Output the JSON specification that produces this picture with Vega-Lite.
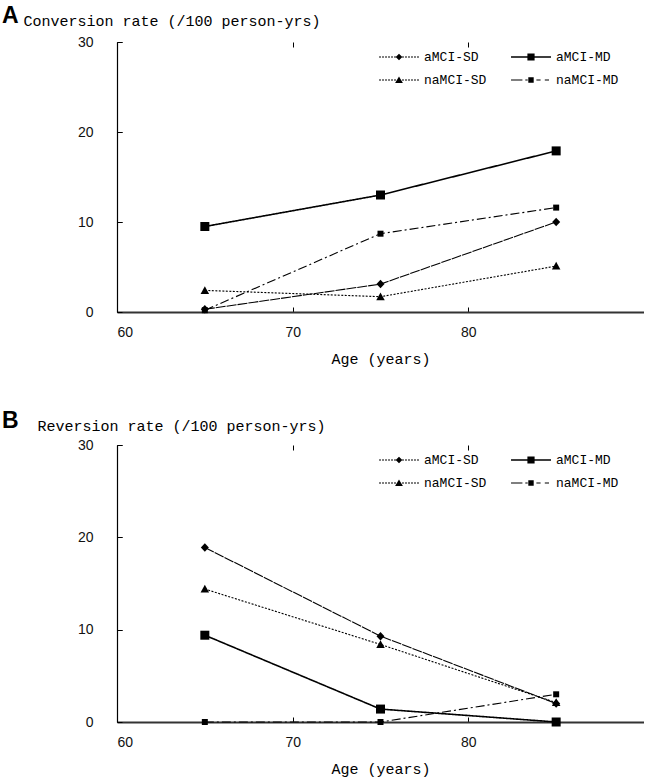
{
  "$schema": "https://vega.github.io/schema/vega-lite/v6.json",
  "padding": {"left": 2, "top": 5, "right": 0, "bottom": 12},
  "background": "white",
  "datasets": {
    "conversion": [
      {"series": "aMCI-SD", "age": 65, "rate": 0.3},
      {"series": "aMCI-SD", "age": 75, "rate": 3.1},
      {"series": "aMCI-SD", "age": 85, "rate": 10.0},
      {"series": "aMCI-MD", "age": 65, "rate": 9.5},
      {"series": "aMCI-MD", "age": 75, "rate": 13.0},
      {"series": "aMCI-MD", "age": 85, "rate": 17.9},
      {"series": "naMCI-SD", "age": 65, "rate": 2.4},
      {"series": "naMCI-SD", "age": 75, "rate": 1.7},
      {"series": "naMCI-SD", "age": 85, "rate": 5.1},
      {"series": "naMCI-MD", "age": 65, "rate": 0.2},
      {"series": "naMCI-MD", "age": 75, "rate": 8.7},
      {"series": "naMCI-MD", "age": 85, "rate": 11.6}
    ],
    "reversion": [
      {"series": "aMCI-SD", "age": 65, "rate": 18.9},
      {"series": "aMCI-SD", "age": 75, "rate": 9.3},
      {"series": "aMCI-SD", "age": 85, "rate": 2.0},
      {"series": "aMCI-MD", "age": 65, "rate": 9.4},
      {"series": "aMCI-MD", "age": 75, "rate": 1.4},
      {"series": "aMCI-MD", "age": 85, "rate": 0.0},
      {"series": "naMCI-SD", "age": 65, "rate": 14.4},
      {"series": "naMCI-SD", "age": 75, "rate": 8.4},
      {"series": "naMCI-SD", "age": 85, "rate": 2.1},
      {"series": "naMCI-MD", "age": 65, "rate": 0.0},
      {"series": "naMCI-MD", "age": 75, "rate": 0.0},
      {"series": "naMCI-MD", "age": 85, "rate": 3.0}
    ]
  },
  "vconcat": [
    {
      "width": 527,
      "height": 270,
      "data": {"name": "conversion"},
      "title": {"text": "A", "anchor": "start", "frame": "group", "font": "Liberation Sans", "fontSize": 23, "fontWeight": "bold", "color": "black", "dx": -115, "dy": 15, "offset": 0},
      "encoding": {
        "x": {"field": "age", "type": "quantitative", "scale": {"domain": [60, 90], "nice": false, "zero": false},
          "axis": {"title": "Age (years)", "values": [60, 70, 80], "labelFlush": true}},
        "y": {"field": "rate", "type": "quantitative", "scale": {"domain": [0, 30], "nice": false},
          "axis": {"title": "Conversion rate (/100 person-yrs)", "values": [0, 10, 20, 30], "titleX": -94, "titleY": -22}}
      },
      "layer": [
        {
          "mark": {"type": "line", "color": "black"},
          "encoding": {
            "strokeDash": {"field": "series", "type": "nominal", "legend": null,
              "scale": {"domain": ["aMCI-SD", "naMCI-SD", "aMCI-MD", "naMCI-MD"], "range": [[10, 1], [2, 1.5], [1, 0], [9, 3, 2, 3]]}},
            "strokeWidth": {"condition": {"test": "datum.series === 'aMCI-MD'", "value": 1.6}, "value": 1.1},
            "order": {"field": "age", "type": "quantitative"}
          }
        },
        {
          "mark": {"type": "point", "filled": true, "color": "black", "opacity": 1, "size": 100},
          "encoding": {
            "shape": {"field": "series", "type": "nominal", "legend": null,
              "scale": {"domain": ["aMCI-SD", "naMCI-SD", "aMCI-MD", "naMCI-MD"],
                "range": ["M0,-0.85L0.8,0L0,0.85L-0.8,0Z", "M0,-0.85L0.85,0.7L-0.85,0.7Z", "M-0.9,-0.9h1.8v1.8h-1.8Z", "M-0.6,-0.6h1.2v1.2h-1.2Z"]}}
          }
        },
        {
          "mark": {"type": "point", "filled": true, "color": "black", "opacity": 0, "size": 144},
          "encoding": {
            "shape": {"field": "series", "type": "nominal",
              "scale": {"domain": ["aMCI-SD", "naMCI-SD", "aMCI-MD", "naMCI-MD"],
                "range": [
                  "M-3.33,-0.08h0.33v0.16h-0.33ZM-2.83,-0.08h0.33v0.16h-0.33ZM-2.33,-0.08h0.33v0.16h-0.33ZM-1.83,-0.08h0.33v0.16h-0.33ZM-1.33,-0.08h0.33v0.16h-0.33ZM-0.83,-0.08h0.33v0.16h-0.33ZM0.5,-0.08h0.33v0.16h-0.33ZM1,-0.08h0.33v0.16h-0.33ZM1.5,-0.08h0.33v0.16h-0.33ZM2,-0.08h0.33v0.16h-0.33ZM2.5,-0.08h0.33v0.16h-0.33ZM3,-0.08h0.33v0.16h-0.33ZM0,-0.55L0.55,0L0,0.55L-0.55,0Z",
                  "M-3.33,-0.08h0.33v0.16h-0.33ZM-2.83,-0.08h0.33v0.16h-0.33ZM-2.33,-0.08h0.33v0.16h-0.33ZM-1.83,-0.08h0.33v0.16h-0.33ZM-1.33,-0.08h0.33v0.16h-0.33ZM-0.83,-0.08h0.33v0.16h-0.33ZM0.5,-0.08h0.33v0.16h-0.33ZM1,-0.08h0.33v0.16h-0.33ZM1.5,-0.08h0.33v0.16h-0.33ZM2,-0.08h0.33v0.16h-0.33ZM2.5,-0.08h0.33v0.16h-0.33ZM3,-0.08h0.33v0.16h-0.33ZM0,-0.6L0.65,0.5L-0.65,0.5Z",
                  "M-3.33,-0.12h6.66v0.24h-6.66ZM-0.6,-0.6h1.2v1.2h-1.2Z",
                  "M-3.33,-0.08h1.9v0.16h-1.9ZM-0.95,-0.08h0.4v0.16h-0.4ZM0.9,-0.08h0.7v0.16h-0.7ZM2.3,-0.08h0.7v0.16h-0.7ZM-0.45,-0.45h0.9v0.9h-0.9Z"
                ]},
              "legend": {"orient": "none", "legendX": 275, "legendY": 8, "columns": 2, "title": null, "symbolSize": 144,
                "symbolFillColor": "black", "symbolOpacity": 1,
                "labelOffset": 18, "columnPadding": 21, "rowPadding": 9, "labelFont": "Liberation Mono", "labelFontSize": 13, "labelColor": "black", "padding": 0}}
          }
        }
      ],
      "resolve": {"scale": {"shape": "independent"}, "legend": {"shape": "independent"}}
    },
    {
      "width": 527,
      "height": 277,
      "data": {"name": "reversion"},
      "title": {"text": "B", "anchor": "start", "frame": "group", "font": "Liberation Sans", "fontSize": 23, "fontWeight": "bold", "color": "black", "dx": -115, "dy": 15, "offset": 0},
      "encoding": {
        "x": {"field": "age", "type": "quantitative", "scale": {"domain": [60, 90], "nice": false, "zero": false},
          "axis": {"title": "Age (years)", "values": [60, 70, 80], "labelFlush": true}},
        "y": {"field": "rate", "type": "quantitative", "scale": {"domain": [0, 30], "nice": false},
          "axis": {"title": "Reversion rate (/100 person-yrs)", "values": [0, 10, 20, 30], "titleX": -80, "titleY": -20}}
      },
      "layer": [
        {
          "mark": {"type": "line", "color": "black"},
          "encoding": {
            "strokeDash": {"field": "series", "type": "nominal", "legend": null,
              "scale": {"domain": ["aMCI-SD", "naMCI-SD", "aMCI-MD", "naMCI-MD"], "range": [[10, 1], [2, 1.5], [1, 0], [9, 3, 2, 3]]}},
            "strokeWidth": {"condition": {"test": "datum.series === 'aMCI-MD'", "value": 1.6}, "value": 1.1},
            "order": {"field": "age", "type": "quantitative"}
          }
        },
        {
          "mark": {"type": "point", "filled": true, "color": "black", "opacity": 1, "size": 100},
          "encoding": {
            "shape": {"field": "series", "type": "nominal", "legend": null,
              "scale": {"domain": ["aMCI-SD", "naMCI-SD", "aMCI-MD", "naMCI-MD"],
                "range": ["M0,-0.85L0.8,0L0,0.85L-0.8,0Z", "M0,-0.85L0.85,0.7L-0.85,0.7Z", "M-0.9,-0.9h1.8v1.8h-1.8Z", "M-0.6,-0.6h1.2v1.2h-1.2Z"]}}
          }
        },
        {
          "mark": {"type": "point", "filled": true, "color": "black", "opacity": 0, "size": 144},
          "encoding": {
            "shape": {"field": "series", "type": "nominal",
              "scale": {"domain": ["aMCI-SD", "naMCI-SD", "aMCI-MD", "naMCI-MD"],
                "range": [
                  "M-3.33,-0.08h0.33v0.16h-0.33ZM-2.83,-0.08h0.33v0.16h-0.33ZM-2.33,-0.08h0.33v0.16h-0.33ZM-1.83,-0.08h0.33v0.16h-0.33ZM-1.33,-0.08h0.33v0.16h-0.33ZM-0.83,-0.08h0.33v0.16h-0.33ZM0.5,-0.08h0.33v0.16h-0.33ZM1,-0.08h0.33v0.16h-0.33ZM1.5,-0.08h0.33v0.16h-0.33ZM2,-0.08h0.33v0.16h-0.33ZM2.5,-0.08h0.33v0.16h-0.33ZM3,-0.08h0.33v0.16h-0.33ZM0,-0.55L0.55,0L0,0.55L-0.55,0Z",
                  "M-3.33,-0.08h0.33v0.16h-0.33ZM-2.83,-0.08h0.33v0.16h-0.33ZM-2.33,-0.08h0.33v0.16h-0.33ZM-1.83,-0.08h0.33v0.16h-0.33ZM-1.33,-0.08h0.33v0.16h-0.33ZM-0.83,-0.08h0.33v0.16h-0.33ZM0.5,-0.08h0.33v0.16h-0.33ZM1,-0.08h0.33v0.16h-0.33ZM1.5,-0.08h0.33v0.16h-0.33ZM2,-0.08h0.33v0.16h-0.33ZM2.5,-0.08h0.33v0.16h-0.33ZM3,-0.08h0.33v0.16h-0.33ZM0,-0.6L0.65,0.5L-0.65,0.5Z",
                  "M-3.33,-0.12h6.66v0.24h-6.66ZM-0.6,-0.6h1.2v1.2h-1.2Z",
                  "M-3.33,-0.08h1.9v0.16h-1.9ZM-0.95,-0.08h0.4v0.16h-0.4ZM0.9,-0.08h0.7v0.16h-0.7ZM2.3,-0.08h0.7v0.16h-0.7ZM-0.45,-0.45h0.9v0.9h-0.9Z"
                ]},
              "legend": {"orient": "none", "legendX": 275, "legendY": 8, "columns": 2, "title": null, "symbolSize": 144,
                "symbolFillColor": "black", "symbolOpacity": 1,
                "labelOffset": 18, "columnPadding": 21, "rowPadding": 9, "labelFont": "Liberation Mono", "labelFontSize": 13, "labelColor": "black", "padding": 0}}
          }
        }
      ],
      "resolve": {"scale": {"shape": "independent"}, "legend": {"shape": "independent"}}
    }
  ],
  "spacing": 133,
  "bounds": "flush",
  "resolve": {"scale": {"x": "independent", "y": "independent", "shape": "independent", "strokeDash": "independent"}, "legend": {"shape": "independent"}},
  "config": {
    "view": {"stroke": null},
    "axis": {"grid": true, "gridColor": "black", "gridWidth": 1, "gridDash": [5, 2000], "gridOpacity": 1,
      "labelFont": "Liberation Sans", "labelFontSize": 14, "labelColor": "#111", "domainColor": "black", "tickColor": "black", "tickSize": -5,
      "titleFont": "Liberation Mono", "titleFontSize": 15, "titleFontWeight": "normal", "titleColor": "black"},
    "axisX": {"domainWidth": 2, "domainColor": "#333", "labelPadding": 18, "titlePadding": 12},
    "axisY": {"domainWidth": 1.2, "labelPadding": 29, "titleAngle": 0, "titleAlign": "left", "titleBaseline": "middle"}
  }
}
